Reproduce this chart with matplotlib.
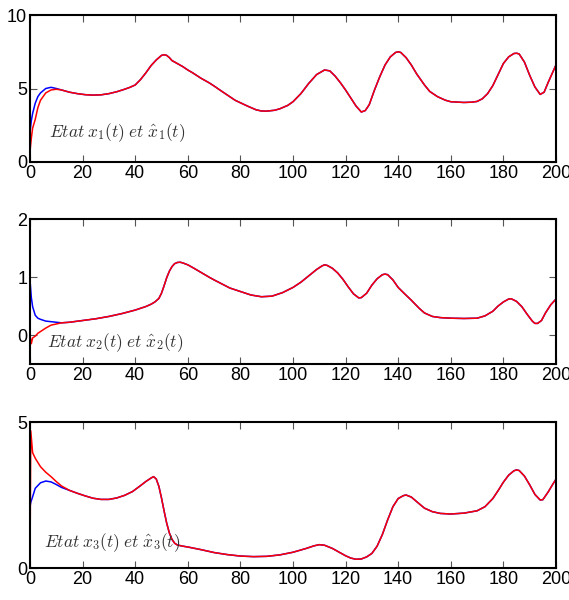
import numpy as np
from matplotlib import pyplot as plt

plt.rcParams['font.family'] = ['Liberation Sans', 'DejaVu Sans']
plt.rcParams['mathtext.fontset'] = 'cm'

# ---- state 1 : x1 (blue) and its estimate (red) ----
t1_init = [0, 0.5, 1, 2, 3, 4, 6, 8, 10, 12]
x1_init = [2.0, 2.8, 3.3, 4.0, 4.45, 4.7, 5.0, 5.08, 5.0, 4.9]
x1h_init = [0.7, 1.6, 2.3, 2.9, 3.7, 4.2, 4.7, 4.9, 4.95, 4.9]
t1 = [15, 18, 21, 24, 27, 30, 33, 36, 38, 40, 42, 44, 46, 48, 50, 51, 52, 53,
      54, 56, 58, 60, 62, 65, 68, 70, 73, 75, 78, 80, 83, 86, 88, 90, 93, 95,
      98, 100, 103, 106, 109, 112, 114, 116, 118, 120, 122, 124, 126, 127.5,
      129, 131, 133, 135, 137, 139, 140, 141, 143, 145, 147, 150, 152, 155,
      158, 160, 165, 168, 170, 172, 174, 176, 178, 180, 182, 184, 185, 186,
      188, 190, 192, 194, 195.5, 197, 198.5, 200]
x1 = [4.75, 4.65, 4.58, 4.55, 4.57, 4.65, 4.78, 4.95, 5.08, 5.24, 5.6, 6.05,
      6.55, 6.94, 7.25, 7.3, 7.25, 7.1, 6.9, 6.7, 6.5, 6.26, 6.05, 5.7, 5.4,
      5.17, 4.8, 4.56, 4.2, 4.03, 3.78, 3.55, 3.47, 3.46, 3.52, 3.62, 3.85,
      4.1, 4.65, 5.35, 5.95, 6.26, 6.2, 5.85, 5.4, 4.9, 4.35, 3.8, 3.4, 3.5,
      3.9, 4.9, 5.8, 6.6, 7.15, 7.45, 7.5, 7.45, 7.1, 6.6, 6.0, 5.24, 4.8,
      4.44, 4.2, 4.1, 4.05, 4.07, 4.12, 4.3, 4.65, 5.2, 5.95, 6.7, 7.15, 7.38,
      7.4, 7.35, 6.8, 5.9, 5.1, 4.6, 4.75, 5.4, 6.0, 6.6]

# ---- state 2 ----
t2_init = [0, 0.5, 1, 2, 3, 4, 6, 8, 10, 12]
x2_init = [0.95, 0.65, 0.49, 0.34, 0.29, 0.27, 0.24, 0.23, 0.22, 0.21]
x2h_init = [0.0, -0.15, -0.05, -0.02, 0.03, 0.06, 0.12, 0.17, 0.19, 0.21]
t2 = [15, 20, 25, 30, 35, 40, 44, 46, 47.5, 49, 50, 51, 52, 53, 54, 55, 56,
      57, 58, 60, 62, 65, 68, 70, 73, 76, 80, 84, 88, 92, 96, 100, 103, 106,
      109, 111, 112, 113, 115, 117, 119, 121, 123, 125, 126, 128, 130, 132,
      134, 135, 136, 138, 140, 142, 145, 148, 150, 153, 156, 160, 165, 170,
      173, 176, 178, 180, 182, 183, 185, 187, 189, 191, 192, 193, 194.5, 196,
      198, 200]
x2 = [0.22, 0.25, 0.28, 0.32, 0.37, 0.43, 0.49, 0.53, 0.57, 0.63, 0.72, 0.85,
      0.99, 1.1, 1.18, 1.23, 1.25, 1.255, 1.245, 1.21, 1.16, 1.08, 1.0, 0.95,
      0.88, 0.81, 0.75, 0.69, 0.66, 0.67, 0.73, 0.82, 0.91, 1.02, 1.13, 1.19,
      1.21, 1.2, 1.15, 1.07, 0.96, 0.83, 0.71, 0.64, 0.645, 0.72, 0.86, 0.97,
      1.04, 1.05, 1.04, 0.95, 0.82, 0.73, 0.6, 0.46, 0.38, 0.32, 0.3, 0.29,
      0.285, 0.29, 0.33, 0.41, 0.5, 0.57, 0.62, 0.625, 0.58, 0.49, 0.36, 0.24,
      0.2, 0.2, 0.25, 0.38, 0.52, 0.62]

# ---- state 3 ----
t3_init = [0, 0.3, 1, 2, 4, 6, 8, 10, 12]
x3_init = [2.1, 2.25, 2.44, 2.73, 2.92, 2.98, 2.95, 2.86, 2.76]
x3h_init = [0.0, 4.7, 3.95, 3.76, 3.47, 3.28, 3.13, 2.96, 2.81]
t3 = [15, 18, 21, 24, 27, 30, 33, 36, 39, 42, 44, 46, 47, 48, 49, 50, 51, 52,
      53, 54, 55, 56, 58, 60, 65, 70, 75, 80, 85, 90, 95, 100, 105, 108, 110,
      112, 115, 118, 120, 122, 124, 126, 128, 130, 132, 134, 136, 138, 140,
      142, 143, 145, 148, 150, 153, 156, 160, 165, 170, 173, 176, 178, 180,
      182, 184, 185, 186, 188, 190, 192, 194, 195, 197, 199, 200]
x3 = [2.66, 2.56, 2.47, 2.39, 2.35, 2.35, 2.4, 2.49, 2.62, 2.82, 2.96, 3.08,
      3.13, 3.05, 2.8, 2.4, 1.95, 1.53, 1.2, 0.98, 0.85, 0.79, 0.75, 0.72,
      0.63, 0.53, 0.46, 0.41, 0.39, 0.4, 0.45, 0.54, 0.67, 0.76, 0.8, 0.78,
      0.67, 0.52, 0.42, 0.34, 0.3, 0.31, 0.38, 0.5, 0.75, 1.15, 1.65, 2.1,
      2.38, 2.48, 2.5, 2.43, 2.2, 2.05, 1.93, 1.87, 1.85, 1.88, 1.96, 2.1,
      2.38, 2.65, 2.94, 3.18, 3.33, 3.36, 3.34, 3.15, 2.85, 2.52, 2.33, 2.34,
      2.6, 2.9, 3.04]

states = [
    (t1_init, x1_init, x1h_init, t1, x1, (0, 10), [0, 5, 10], (7.3, 2.0), '1'),
    (t2_init, x2_init, x2h_init, t2, x2, (-0.5, 2), [0, 1, 2], (6.6, -0.14), '2'),
    (t3_init, x3_init, x3h_init, t3, x3, (0, 5), [0, 5], (5.5, 0.86), '3'),
]
boxes = [[0.0527, 0.73, 0.9244, 0.245],
         [0.0527, 0.3933, 0.9244, 0.2417],
         [0.0527, 0.0533, 0.9244, 0.2433]]

fig = plt.figure(figsize=(5.69, 6.0), dpi=100)

for box, (ti, xi, xhi, tc, xc, ylim, yt, tpos, k) in zip(boxes, states):
    ax = fig.add_axes(box)
    t = np.concatenate([ti, tc])
    ax.plot(t, np.concatenate([xi, xc]), color='#0000ff', lw=1.1)
    ax.plot(t, np.concatenate([xhi, xc]), color='#ff0000', lw=1.1)
    ax.set_xlim(0, 200)
    ax.set_ylim(*ylim)
    ax.set_xticks(np.arange(0, 201, 20))
    ax.set_yticks(yt)
    ax.tick_params(direction='in', top=True, right=True, length=5,
                   color='#555555', labelsize=13, pad=2)
    for s in ax.spines.values():
        s.set_linewidth(1.5)
    ax.text(tpos[0], tpos[1],
            r'$Etat\;x_%s(t)\;et\;\hat{x}_%s(t)$' % (k, k),
            fontsize=12.5, color='#333333', va='center')

fig.savefig('out.png', dpi=100)
